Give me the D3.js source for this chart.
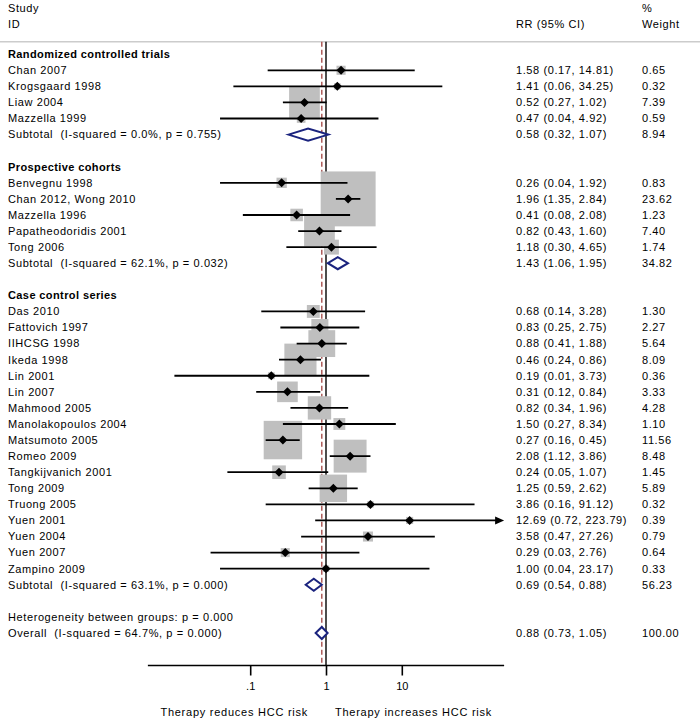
<!DOCTYPE html>
<html>
<head>
<meta charset="utf-8">
<script src="https://cdn.jsdelivr.net/npm/d3@7"></script>
<style>
  html, body { margin: 0; padding: 0; background: #fff; }
  svg text { font-family: "Liberation Sans", Arial, sans-serif; white-space: pre; }
</style>
</head>
<body>
<svg id="chart" width="700" height="719"></svg>
<script>
// ---------------- DATA ----------------
const groupNames = ["Randomized controlled trials", "Prospective cohorts", "Case control series"];

const studyLabels = [
  "Chan 2007", "Krogsgaard 1998", "Liaw 2004", "Mazzella 1999",
  "Benvegnu 1998", "Chan 2012, Wong 2010", "Mazzella 1996", "Papatheodoridis 2001", "Tong 2006",
  "Das 2010", "Fattovich 1997", "IIHCSG 1998", "Ikeda 1998", "Lin 2001", "Lin 2007", "Mahmood 2005",
  "Manolakopoulos 2004", "Matsumoto 2005", "Romeo 2009", "Tangkijvanich 2001", "Tong 2009",
  "Truong 2005", "Yuen 2001", "Yuen 2004", "Yuen 2007", "Zampino 2009"
];
const studyGroup = [0,0,0,0, 1,1,1,1,1, 2,2,2,2,2,2,2,2,2,2,2,2,2,2,2,2,2];
const studyRR    = [1.58,1.41,0.52,0.47, 0.26,1.96,0.41,0.82,1.18,
                    0.68,0.83,0.88,0.46,0.19,0.31,0.82,1.50,0.27,2.08,0.24,1.25,3.86,12.69,3.58,0.29,1.00];
const studyLower = [0.17,0.06,0.27,0.04, 0.04,1.35,0.08,0.43,0.30,
                    0.14,0.25,0.41,0.24,0.01,0.12,0.34,0.27,0.16,1.12,0.05,0.59,0.16,0.72,0.47,0.03,0.04];
const studyUpper = [14.81,34.25,1.02,4.92, 1.92,2.84,2.08,1.60,4.65,
                    3.28,2.75,1.88,0.86,3.73,0.84,1.96,8.34,0.45,3.86,1.07,2.62,91.12,223.79,27.26,2.76,23.17];
const studyWeight = [0.65,0.32,7.39,0.59, 0.83,23.62,1.23,7.40,1.74,
                     1.30,2.27,5.64,8.09,0.36,3.33,4.28,1.10,11.56,8.48,1.45,5.89,0.32,0.39,0.79,0.64,0.33];
const studyArrow = ["Yuen 2001"];

const subtotalLabels = [
  "Subtotal  (I-squared = 0.0%, p = 0.755)",
  "Subtotal  (I-squared = 62.1%, p = 0.032)",
  "Subtotal  (I-squared = 63.1%, p = 0.000)"
];
const subtotalRR     = [0.58, 1.43, 0.69];
const subtotalLower  = [0.32, 1.06, 0.54];
const subtotalUpper  = [1.07, 1.95, 0.88];
const subtotalWeight = [8.94, 34.82, 56.23];

const heterogeneityLabel = "Heterogeneity between groups: p = 0.000";
const overallLabel = "Overall  (I-squared = 64.7%, p = 0.000)";
const overallRR = 0.88, overallLower = 0.73, overallUpper = 1.05, overallWeight = 100.00;

const tickValues = [0.1, 1, 10];
const tickLabels = [".1", "1", "10"];
const axisMax = 223.79;
const leftNote = "Therapy reduces HCC risk";
const rightNote = "Therapy increases HCC risk";

// ---------------- BUILD ROWS ----------------
const rows = [];
groupNames.forEach((g, gi) => {
  rows.push({type: "header", label: g});
  studyLabels.forEach((s, i) => {
    if (studyGroup[i] === gi) rows.push({type: "study", label: s, rr: studyRR[i], lo: studyLower[i], hi: studyUpper[i], w: studyWeight[i], arrow: studyArrow.includes(s)});
  });
  rows.push({type: "subtotal", label: subtotalLabels[gi], rr: subtotalRR[gi], lo: subtotalLower[gi], hi: subtotalUpper[gi], w: subtotalWeight[gi]});
  rows.push({type: "blank"});
});
rows.push({type: "note", label: heterogeneityLabel});
rows.push({type: "subtotal", label: overallLabel, rr: overallRR, lo: overallLower, hi: overallUpper, w: overallWeight});
rows.forEach((r, i) => r.i = i);

const fmt = d3.format(".2f");

// ---------------- DRAW ----------------
const svg = d3.select("#chart");
const x = d3.scaleLog().domain([1 / axisMax, axisMax]).range([326 - 75.8 * Math.log10(axisMax), 326 + 75.8 * Math.log10(axisMax)]);
const y = d3.scaleLinear().domain([0, rows.length - 1]).range([54.2, 633]);
const topLine = 41.7, axisY = 665.5;
const boxK = 11.3;
const fs = 11;
const ls = "0.6px";

// header
const hdr = svg.append("g").attr("font-size", fs).attr("fill", "#000").attr("letter-spacing", ls);
hdr.append("text").attr("x", 8).attr("y", 8).attr("dy", "0.35em").text("Study");
hdr.append("text").attr("x", 8).attr("y", 24).attr("dy", "0.35em").text("ID");
hdr.append("text").attr("x", 516).attr("y", 24).attr("dy", "0.35em").text("RR (95% CI)");
hdr.append("text").attr("x", 642).attr("y", 8).attr("dy", "0.35em").text("%");
hdr.append("text").attr("x", 642).attr("y", 24).attr("dy", "0.35em").text("Weight");

svg.append("line").attr("x1", 0).attr("x2", 700).attr("y1", topLine).attr("y2", topLine)
  .attr("stroke", "#cccccc").attr("stroke-width", 1.5);

// reference lines
svg.append("line").attr("x1", x(1)).attr("x2", x(1)).attr("y1", topLine).attr("y2", axisY)
  .attr("stroke", "#000").attr("stroke-width", 1.4);
svg.append("line").attr("x1", x(overallRR)).attr("x2", x(overallRR)).attr("y1", topLine).attr("y2", axisY)
  .attr("stroke", "#a8504e").attr("stroke-width", 1.4).attr("stroke-dasharray", "5,3");

const studies = rows.filter(r => r.type === "study");

// boxes
svg.append("g").selectAll("rect").data(studies).join("rect")
  .attr("x", d => x(d.rr) - boxK * Math.sqrt(d.w) / 2)
  .attr("y", d => y(d.i) - boxK * Math.sqrt(d.w) / 2)
  .attr("width", d => boxK * Math.sqrt(d.w))
  .attr("height", d => boxK * Math.sqrt(d.w))
  .attr("fill", "#bfbfbf");

// CI lines
svg.append("g").selectAll("line").data(studies).join("line")
  .attr("x1", d => x(d.lo)).attr("x2", d => d.arrow ? x(d.hi) - 6 : x(d.hi))
  .attr("y1", d => y(d.i)).attr("y2", d => y(d.i))
  .attr("stroke", "#000").attr("stroke-width", 1.8);

// arrows
svg.append("g").selectAll("path").data(studies.filter(d => d.arrow)).join("path")
  .attr("d", d => `M${x(d.hi)},${y(d.i)} L${x(d.hi) - 9},${y(d.i) - 4} L${x(d.hi) - 9},${y(d.i) + 4} Z`)
  .attr("fill", "#000");

// point markers
svg.append("g").selectAll("path").data(studies).join("path")
  .attr("d", d => { const cx = x(d.rr), cy = y(d.i), h = 4.5; return `M${cx - h},${cy} L${cx},${cy - h} L${cx + h},${cy} L${cx},${cy + h} Z`; })
  .attr("fill", "#000");

// subtotal diamonds
svg.append("g").selectAll("path").data(rows.filter(r => r.type === "subtotal")).join("path")
  .attr("d", d => { const cy = y(d.i), h = 6; return `M${x(d.lo)},${cy} L${x(d.rr)},${cy - h} L${x(d.hi)},${cy} L${x(d.rr)},${cy + h} Z`; })
  .attr("fill", "#fff").attr("stroke", "#1a237e").attr("stroke-width", 2);

// labels
const lab = svg.append("g").attr("font-size", fs).attr("fill", "#000");
lab.selectAll("text.lbl").data(rows.filter(r => r.label)).join("text")
  .attr("class", "lbl")
  .attr("x", 8).attr("y", d => y(d.i)).attr("dy", "0.35em")
  .attr("font-weight", d => d.type === "header" ? "bold" : "normal")
  .attr("letter-spacing", d => d.type === "header" ? "0.4px" : ls)
  .text(d => d.label);

const valued = rows.filter(r => r.type === "study" || r.type === "subtotal");
lab.selectAll("text.rr").data(valued).join("text")
  .attr("class", "rr").attr("letter-spacing", ls)
  .attr("x", 516).attr("y", d => y(d.i)).attr("dy", "0.35em")
  .text(d => `${fmt(d.rr)} (${fmt(d.lo)}, ${fmt(d.hi)})`);
lab.selectAll("text.wt").data(valued).join("text")
  .attr("class", "wt").attr("letter-spacing", ls)
  .attr("x", 642).attr("y", d => y(d.i)).attr("dy", "0.35em")
  .text(d => fmt(d.w));

// axis
const axis = d3.axisBottom(x).tickValues(tickValues).tickSize(10)
  .tickFormat((d, i) => tickLabels[i]);
const ax = svg.append("g").attr("transform", `translate(0,${axisY})`).call(axis);
ax.select(".domain").attr("stroke", "#000").attr("stroke-width", 1.6).attr("d", `M${x.range()[0]},0H${x.range()[1]}`);
ax.selectAll(".tick line").attr("stroke", "#000").attr("stroke-width", 1.6);
ax.selectAll(".tick text").attr("font-size", fs).attr("fill", "#000").attr("y", 17)
  .attr("font-family", "Liberation Sans, Arial, sans-serif");

svg.append("text").attr("x", 308).attr("y", 712).attr("dy", "0.35em").attr("text-anchor", "end")
  .attr("font-size", fs).attr("letter-spacing", "0.75px").text(leftNote);
svg.append("text").attr("x", 335).attr("y", 712).attr("dy", "0.35em")
  .attr("font-size", fs).attr("letter-spacing", "0.75px").text(rightNote);
</script>
</body>
</html>
